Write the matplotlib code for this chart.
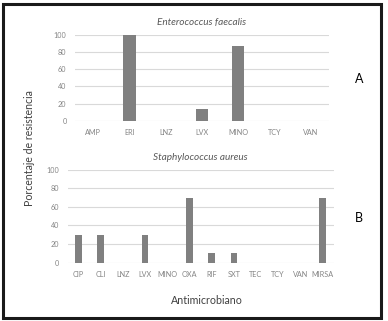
import matplotlib.pyplot as plt
from matplotlib.patches import Rectangle

plt.rcParams['font.family'] = ['Lato', 'DejaVu Sans']

# Enterococcus faecalis
ef_drugs = ['AMP', 'ERI', 'LNZ', 'LVX', 'MINO', 'TCY', 'VAN']
ef_values = [0, 100, 0, 14, 87, 0, 0]

# Staphylococcus aureus
sa_drugs = ['CIP', 'CLI', 'LNZ', 'LVX', 'MINO', 'OXA', 'RIF', 'SXT', 'TEC', 'TCY', 'VAN', 'MIRSA']
sa_values = [30, 30, 0, 30, 0, 70, 10, 10, 0, 0, 0, 70]

y_ticks = [0, 20, 40, 60, 80, 100]

bar_color = '#808080'
grid_color = '#d9d9d9'
tick_color = '#858585'

fig = plt.figure(figsize=(3.88, 3.21), dpi=100)


def draw_panel(ax, labels, values, title, width):
    x = list(range(len(labels)))
    ax.bar(x, values, width=width, color=bar_color, zorder=3)
    ax.set_xlim(-0.5, len(labels) - 0.5)
    ax.set_ylim(0, 100)
    ax.set_yticks(y_ticks)
    ax.set_xticks(x)
    ax.set_xticklabels(labels)
    ax.grid(axis='y', color=grid_color, linewidth=0.8, zorder=0)
    ax.set_axisbelow(True)
    for s in ax.spines.values():
        s.set_visible(False)
    ax.tick_params(length=0, labelsize=5.2, colors=tick_color, pad=6)
    ax.set_title(title, fontsize=7.2, style='italic', color='#595959', pad=7)


ax1 = fig.add_axes([0.193, 0.623, 0.655, 0.269])
draw_panel(ax1, ef_drugs, ef_values, 'Enterococcus faecalis', 0.34)

ax2 = fig.add_axes([0.174, 0.182, 0.686, 0.289])
draw_panel(ax2, sa_drugs, sa_values, 'Staphylococcus aureus', 0.3)

fig.text(0.077, 0.54, 'Porcentaje de resistencia', rotation=90, ha='center', va='center',
         fontsize=7.6, color='#404040')
fig.text(0.533, 0.065, 'Antimicrobiano', ha='center', va='center', fontsize=7.7, color='#404040')
fig.text(0.925, 0.754, 'A', ha='center', va='center', fontsize=9, color='black')
fig.text(0.925, 0.321, 'B', ha='center', va='center', fontsize=9, color='black')

# frame around the whole figure
fig.patches.append(Rectangle((0.009, 0.01), 0.974, 0.977, transform=fig.transFigure,
                             fill=False, edgecolor='#1a1a1a', linewidth=2.2))

fig.savefig('out.png', dpi=100)
